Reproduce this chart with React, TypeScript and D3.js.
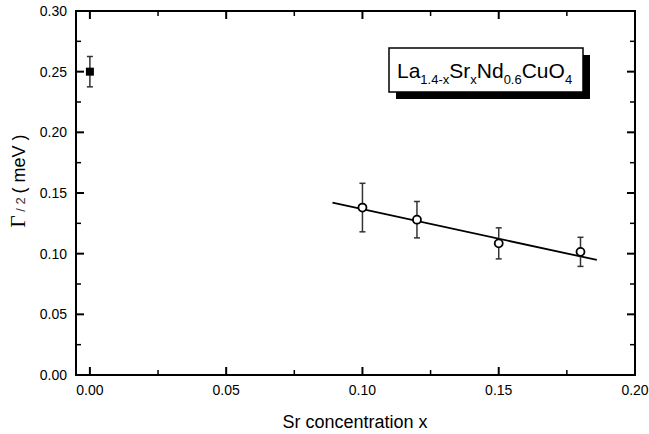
import React from "react";
import * as d3 from "d3";

const refX = [0.0];
const refY = [0.25];
const refErr = [0.0125];

const sampleX = [0.1, 0.12, 0.15, 0.18];
const sampleY = [0.138, 0.128, 0.1085, 0.1015];
const sampleErr = [0.02, 0.015, 0.0128, 0.012];

const fitX = [0.089, 0.186];
const fitY = [0.142, 0.0948];

const xMajor = [0, 0.05, 0.1, 0.15, 0.2];
const xMinor = [0.025, 0.075, 0.125, 0.175];
const yMajor = [0, 0.05, 0.1, 0.15, 0.2, 0.25, 0.3];
const yMinor = [0.025, 0.075, 0.125, 0.175, 0.225, 0.275];

const W = 649;
const H = 434;
const L = 76, R = 635, T = 11, B = 375;
const FONT = "'Liberation Sans', Arial, Helvetica, sans-serif";

export default function App() {
  const x = d3.scaleLinear().domain([-0.0051, 0.2]).range([L, R]);
  const y = d3.scaleLinear().domain([0, 0.3]).range([B, T]);
  const line = d3.line<number>().x((d, i) => x(fitX[i])).y((d, i) => y(fitY[i]));
  const fmt = d3.format(".2f");
  const maj = 8, mnr = 5;

  const errBar = (cx: number, cy: number, e: number, key: string) => (
    <g key={key} stroke="#333" strokeWidth={1.5}>
      <line x1={x(cx)} x2={x(cx)} y1={y(cy + e)} y2={y(cy - e)} />
      <line x1={x(cx) - 3} x2={x(cx) + 3} y1={y(cy + e)} y2={y(cy + e)} />
      <line x1={x(cx) - 3} x2={x(cx) + 3} y1={y(cy - e)} y2={y(cy - e)} />
    </g>
  );

  return (
    <svg width={W} height={H} style={{ position: "absolute", left: 0, top: 0, background: "#fff" }} fontFamily={FONT}>
      {/* ticks */}
      <g stroke="#000">
        {xMajor.map((v) => (
          <g key={"xm" + v} strokeWidth={2}>
            <line x1={x(v)} x2={x(v)} y1={B} y2={B - maj} />
            <line x1={x(v)} x2={x(v)} y1={T} y2={T + maj} />
          </g>
        ))}
        {xMinor.map((v) => (
          <g key={"xn" + v} strokeWidth={1.5}>
            <line x1={x(v)} x2={x(v)} y1={B} y2={B - mnr} />
            <line x1={x(v)} x2={x(v)} y1={T} y2={T + mnr} />
          </g>
        ))}
        {yMajor.map((v) => (
          <g key={"ym" + v} strokeWidth={2}>
            <line x1={L} x2={L + maj} y1={y(v)} y2={y(v)} />
            <line x1={R} x2={R - maj} y1={y(v)} y2={y(v)} />
          </g>
        ))}
        {yMinor.map((v) => (
          <g key={"yn" + v} strokeWidth={1.5}>
            <line x1={L} x2={L + mnr} y1={y(v)} y2={y(v)} />
            <line x1={R} x2={R - mnr} y1={y(v)} y2={y(v)} />
          </g>
        ))}
      </g>
      <rect x={L} y={T} width={R - L} height={B - T} fill="none" stroke="#000" strokeWidth={2} />

      {/* tick labels */}
      {xMajor.map((v) => (
        <text key={"xl" + v} x={x(v)} y={395} textAnchor="middle" fontSize={14}>
          {fmt(v)}
        </text>
      ))}
      {yMajor.map((v) => (
        <text key={"yl" + v} x={67} y={y(v) + 5} textAnchor="end" fontSize={14}>
          {fmt(v)}
        </text>
      ))}

      {/* axis titles */}
      <text x={355} y={428} textAnchor="middle" fontSize={18}>Sr concentration x</text>
      <text transform="translate(25,181) rotate(-90)" textAnchor="middle" fontSize={18}>
        <tspan fontFamily="'Liberation Serif', 'Times New Roman', serif" fontSize={21}>Γ</tspan>
        <tspan fontSize={13} fill="#333"> / 2 </tspan>
        <tspan>( meV )</tspan>
      </text>

      {/* fit line */}
      <path d={line(fitX) || ""} fill="none" stroke="#000" strokeWidth={1.8} />

      {/* error bars and markers */}
      {refX.map((v, i) => errBar(v, refY[i], refErr[i], "re" + i))}
      {sampleX.map((v, i) => errBar(v, sampleY[i], sampleErr[i], "se" + i))}
      {refX.map((v, i) => (
        <rect key={"rm" + i} x={x(v) - 4} y={y(refY[i]) - 4} width={8} height={8} fill="#000" />
      ))}
      {sampleX.map((v, i) => (
        <circle key={"sm" + i} cx={x(v)} cy={y(sampleY[i])} r={4} fill="#fff" stroke="#000" strokeWidth={1.8} />
      ))}

      {/* legend box */}
      <rect x={396} y={55} width={194} height={44} fill="#000" />
      <rect x={389} y={48} width={194} height={44} fill="#fff" stroke="#000" strokeWidth={1.5} />
      <text x={397} y={78} fontSize={21}>
        <tspan>La</tspan>
        <tspan fontSize={13} dy={6}>1.4-x</tspan>
        <tspan dy={-6}>Sr</tspan>
        <tspan fontSize={13} dy={6}>x</tspan>
        <tspan dy={-6}>Nd</tspan>
        <tspan fontSize={13} dy={6}>0.6</tspan>
        <tspan dy={-6}>CuO</tspan>
        <tspan fontSize={13} dy={6}>4</tspan>
      </text>
    </svg>
  );
}
